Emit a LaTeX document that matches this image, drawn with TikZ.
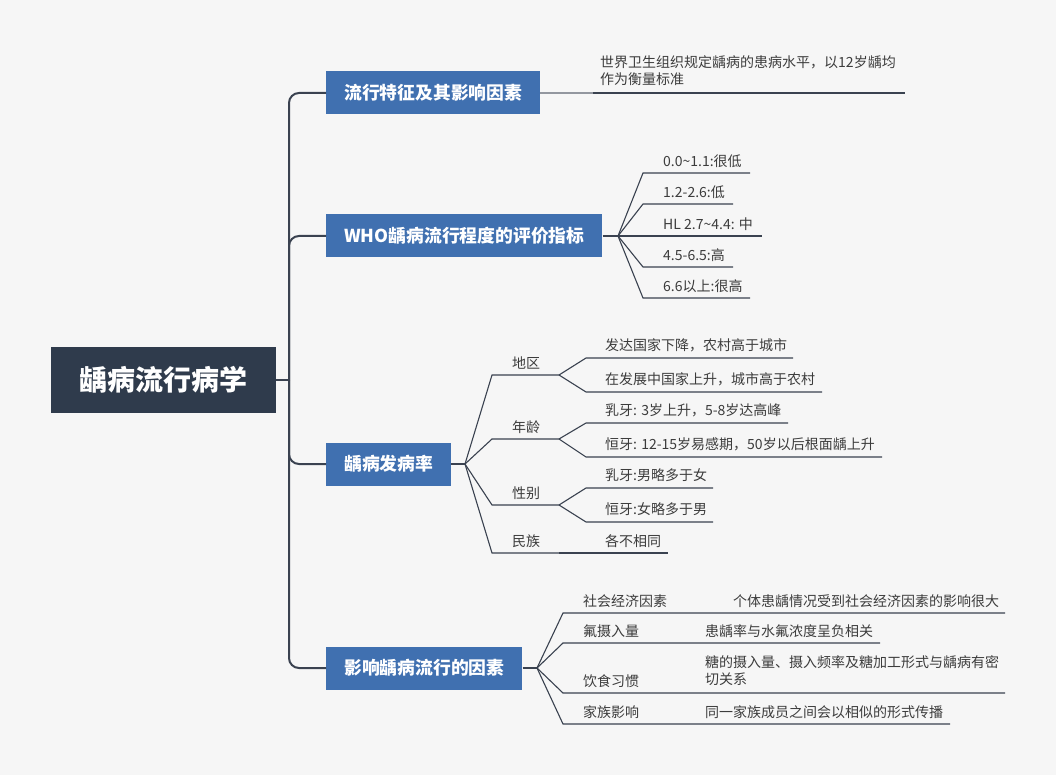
\documentclass[tikz,border=0pt]{standalone}
\usepackage{fontspec}
\setmainfont{Noto Sans CJK SC}
\definecolor{bgc}{RGB}{246,246,246}
\definecolor{rootc}{RGB}{47,59,76}
\definecolor{boxc}{RGB}{64,112,176}
\definecolor{linec}{RGB}{58,66,80}
\definecolor{txtc}{RGB}{60,60,60}
\begin{document}
\begin{tikzpicture}[x=1pt,y=-1pt,
  rootbox/.style={fill=rootc,text=white,font=\fontsize{28}{32}\selectfont\bfseries,minimum width=225pt,minimum height=66pt,inner sep=0pt},
  topic/.style={fill=boxc,text=white,font=\fontsize{17.8}{20}\selectfont\bfseries,minimum height=43pt,inner xsep=18pt,inner ysep=0pt,anchor=west},
  leaf/.style={anchor=west,inner sep=0pt,text=txtc,font=\fontsize{14}{17}\selectfont,align=left},
  conn/.style={draw=linec,line width=1.1pt},
  trunk/.style={draw=linec,line width=2pt,rounded corners=10pt}]
\fill[bgc] (0,0) rectangle (1056,775);
\useasboundingbox (0,0) rectangle (1056,775);
% root and main topics
\node[rootbox] (root) at (163.5,380) {龋病流行病学};
\node[topic] (b1) at (326,93) {流行特征及其影响因素};
\node[topic] (b2) at (326,236) {WHO龋病流行程度的评价指标};
\node[topic] (b3) at (326,464) {龋病发病率};
\node[topic] (b4) at (326,668) {影响龋病流行的因素};
\coordinate (tr) at (289,380);
\draw[trunk] (root.east) -- (tr);
\foreach \b in {b1,b2,b3,b4}{\draw[trunk] (tr) |- (\b.west);}
% topic 1
\coordinate (w0a) at (593,93);\coordinate (w0b) at (905,93);
\node[leaf] (t0) at (600,70.5) {世界卫生组织规定龋病的患病水平，以12岁龋均\\作为衡量标准};
\draw[conn,draw=linec!55] (b1.east) -- (w0a);\draw[conn] (w0a) -- (w0b);
% topic 2
\coordinate (f2) at (618,236);\draw[conn] (b2.east) -- (f2);
\foreach \i/\y/\e/\t in {1/173/750/{0.0\textasciitilde1.1:很低},2/204/733/{1.2-2.6:低},3/236/762/{HL 2.7\textasciitilde4.4: 中},4/267/733/{4.5-6.5:高},5/298/750/{6.6以上:很高}}{
  \coordinate (w2\i) at (643,\y);\coordinate (e2\i) at (\e,\y);
  \node[leaf] (t2\i) at (663,\y-12) {\t};
  \draw[conn] (f2) -- (w2\i) -- (e2\i);}
% topic 3
\coordinate (f3) at (465,464);\draw[conn] (b3.east) -- (f3);
\foreach \i/\y/\t in {1/375/地区,2/439/年龄,3/505/性别,4/553/民族}{
  \coordinate (g3\i) at (492,\y);\coordinate (h3\i) at (559,\y);
  \node[leaf] (l3\i) at (512,\y-12) {\t};
  \draw[conn] (f3) -- (g3\i) -- (h3\i);}
\foreach \i/\j/\y/\e/\t in {1/1/358/793/{发达国家下降，农村高于城市},1/2/392/822/{在发展中国家上升，城市高于农村},2/1/423/788/{乳牙: 3岁上升，5-8岁达高峰},2/2/457/882/{恒牙: 12-15岁易感期，50岁以后根面龋上升},3/1/488/713/{乳牙:男略多于女},3/2/522/713/{恒牙:女略多于男}}{
  \coordinate (m3\i\j) at (586,\y);\coordinate (n3\i\j) at (\e,\y);
  \node[leaf] (t3\i\j) at (605,\y-12.5) {\t};
  \draw[conn] (h3\i) -- (m3\i\j) -- (n3\i\j);}
\coordinate (n341) at (668,553);
\node[leaf] (t341) at (605,541) {各不相同};
\draw[conn] (h34) -- (n341);
% topic 4
\coordinate (f4) at (537,668);\draw[conn] (b4.east) -- (f4);
\foreach \i/\y/\x/\e/\t in {1/613/727/1005/社会经济因素,2/643/697/880/氟摄入量,3/693/697/1005/饮食习惯,4/724/697/950/家族影响}{
  \coordinate (g4\i) at (563,\y);\coordinate (h4\i) at (\x,\y);\coordinate (e4\i) at (\e,\y);
  \node[leaf] (l4\i) at (583,\y-12) {\t};
  \draw[conn] (f4) -- (g4\i) -- (h4\i) -- (e4\i);}
\node[leaf] (t41) at (733,601) {个体患龋情况受到社会经济因素的影响很大};
\node[leaf] (t42) at (705,631) {患龋率与水氟浓度呈负相关};
\node[leaf] (t43) at (705,671) {糖的摄入量、摄入频率及糖加工形式与龋病有密\\切关系};
\node[leaf] (t44) at (705,712) {同一家族成员之间会以相似的形式传播};
\end{tikzpicture}
\end{document}
